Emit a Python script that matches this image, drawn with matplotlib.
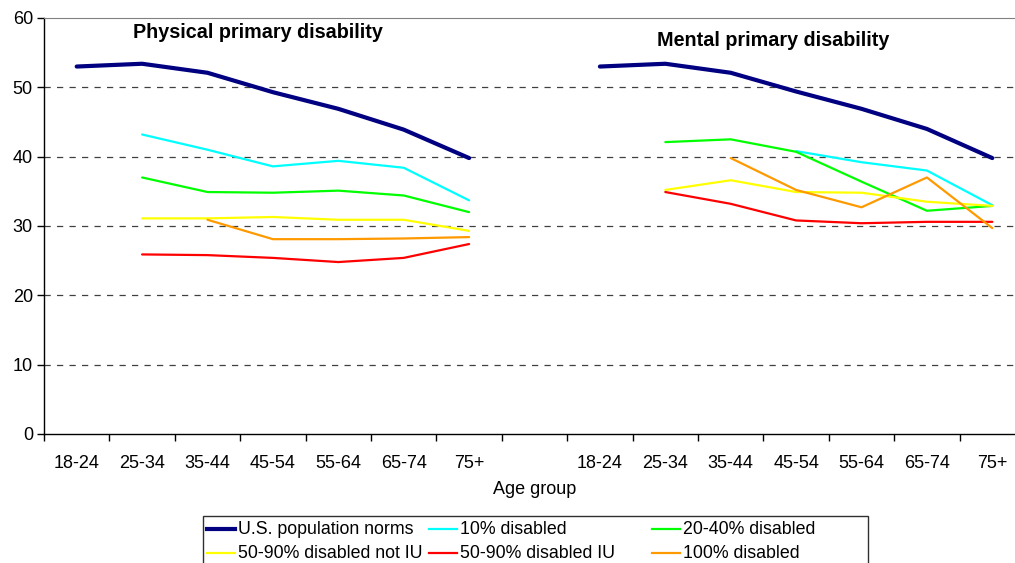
import numpy as np
import matplotlib
matplotlib.use("Agg")
import matplotlib.pyplot as plt
from matplotlib.lines import Line2D
from matplotlib.patches import Rectangle

plt.rcParams['font.family'] = ['Liberation Sans', 'DejaVu Sans']

age_groups = ['18-24', '25-34', '35-44', '45-54', '55-64', '65-74', '75+']
nan = np.nan

# mean scores per age group, physical primary disability
phys = {
    'U.S. population norms': [53.0, 53.4, 52.1, 49.3, 46.9, 43.9, 39.8],
    '10% disabled': [nan, 43.2, 41.0, 38.6, 39.4, 38.4, 33.7],
    '20-40% disabled': [nan, 37.0, 34.9, 34.8, 35.1, 34.4, 32.0],
    '50-90% disabled not IU': [nan, 31.1, 31.1, 31.3, 30.9, 30.9, 29.3],
    '50-90% disabled IU': [nan, 25.9, 25.8, 25.4, 24.8, 25.4, 27.4],
    '100% disabled': [nan, nan, 30.9, 28.1, 28.1, 28.2, 28.4],
}

# mean scores per age group, mental primary disability
ment = {
    'U.S. population norms': [53.0, 53.4, 52.1, 49.4, 46.9, 44.0, 39.8],
    '10% disabled': [nan, nan, nan, 40.8, 39.2, 38.0, 33.0],
    '20-40% disabled': [nan, 42.1, 42.5, 40.7, 36.4, 32.2, 32.9],
    '50-90% disabled not IU': [nan, 35.2, 36.6, 34.9, 34.8, 33.5, 32.9],
    '50-90% disabled IU': [nan, 34.9, 33.2, 30.8, 30.4, 30.6, 30.6],
    '100% disabled': [nan, nan, 39.8, 35.2, 32.7, 37.0, 29.7],
}

colors = {
    'U.S. population norms': '#000080',
    '10% disabled': '#00FFFF',
    '20-40% disabled': '#00FF00',
    '50-90% disabled not IU': '#FFFF00',
    '50-90% disabled IU': '#FF0000',
    '100% disabled': '#FF9900',
}

W, H = 1015, 563
fig = plt.figure(figsize=(W / 100, H / 100), dpi=100)
ax = fig.add_axes([44 / W, 1 - 434 / H, 981 / W, 416 / H])

x_phys = np.arange(7)
x_ment = np.arange(8, 15)


def width_of(name):
    return 3.0 if name == 'U.S. population norms' else 1.6


draw_order = ['10% disabled', '20-40% disabled', '50-90% disabled not IU',
              '50-90% disabled IU', '100% disabled', 'U.S. population norms']
for name in draw_order:
    ax.plot(x_phys, phys[name], color=colors[name], lw=width_of(name),
            solid_capstyle='round')
    ax.plot(x_ment, ment[name], color=colors[name], lw=width_of(name),
            solid_capstyle='round')

ax.set_xlim(-0.5, 14.5)
ax.set_ylim(0, 60)
ax.set_yticks(range(0, 61, 10))
ax.set_xticks(list(x_phys) + list(x_ment))
ax.set_xticklabels(age_groups + age_groups)
ax.set_xticks(np.arange(-0.5, 15, 1), minor=True)
ax.tick_params(axis='x', which='major', length=0, pad=15, labelsize=13)
ax.tick_params(axis='x', which='minor', length=5, width=1, direction='out')
ax.tick_params(axis='y', length=5, width=1, direction='out', labelsize=13, pad=3)

for y in range(10, 60, 10):
    ax.axhline(y, color='#404040', lw=0.9, ls=(0, (5, 5)), zorder=0)

ax.spines['right'].set_visible(False)
ax.spines['top'].set_color('#808080')
ax.spines['left'].set_linewidth(1)
ax.spines['bottom'].set_linewidth(1)

fig.text(258 / W, 1 - 33 / H, 'Physical primary disability',
         fontsize=14.2, fontweight='bold', ha='center', va='center')
fig.text(773 / W, 1 - 40 / H, 'Mental primary disability',
         fontsize=14.2, fontweight='bold', ha='center', va='center')

fig.text(535 / W, 1 - 490 / H, 'Age group', fontsize=13,
         ha='center', va='center')

# legend box laid out by hand: 3 equal-width columns, 2 rows
fig.add_artist(Rectangle((203 / W, -0.05), (868 - 203) / W, 0.05 + (1 - 516 / H),
                         transform=fig.transFigure, facecolor='white',
                         edgecolor='#303030', lw=1, clip_on=False))
legend_rows = [['U.S. population norms', '10% disabled', '20-40% disabled'],
               ['50-90% disabled not IU', '50-90% disabled IU', '100% disabled']]
col_x = [207, 429, 652]
row_y = [529, 553]
for r, row in enumerate(legend_rows):
    for c, name in enumerate(row):
        y = 1 - row_y[r] / H
        fig.add_artist(Line2D([col_x[c] / W, (col_x[c] + 28) / W], [y, y],
                              transform=fig.transFigure, color=colors[name],
                              lw=width_of(name)))
        fig.text((col_x[c] + 31) / W, y, name, fontsize=12.8,
                 ha='left', va='center')

fig.savefig('out.png', dpi=100)
